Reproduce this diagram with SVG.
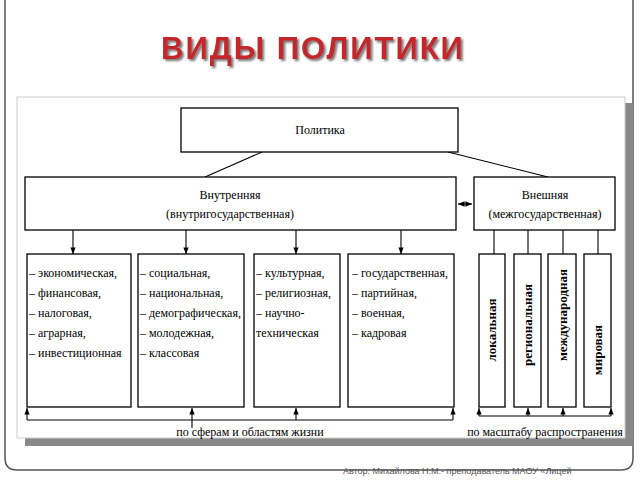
<svg xmlns="http://www.w3.org/2000/svg" width="640" height="480" viewBox="0 0 640 480">
<defs>
<marker id="ah" viewBox="0 0 10 10" refX="10" refY="5" markerWidth="6" markerHeight="6" orient="auto-start-reverse"><path d="M0,1 L10,5 L0,9 z" fill="#000"/></marker>
<filter id="sh" x="-5%" y="-20%" width="110%" height="140%"><feDropShadow dx="2" dy="2" stdDeviation="0.8" flood-color="#777"/></filter>
</defs>
<style>
.b{fill:#fff;stroke:#000;stroke-width:1.3}
.l{stroke:#000;stroke-width:1.1;fill:none}
.t{font-family:"Liberation Serif",serif;font-size:12px;fill:#000}
.c{text-anchor:middle}
.v{font-weight:bold;font-size:13px}
</style>
<rect x="0" y="0" width="640" height="480" fill="#fff"/>
<path d="M5,-10 L5,458 Q5,470 17,470 L621,470 Q633,470 633,458 L633,-10" fill="none" stroke="#555" stroke-width="1.5"/>
<text x="313" y="59" text-anchor="middle" font-family="Liberation Sans,sans-serif" font-weight="bold" font-size="31" letter-spacing="2" fill="#c4262b" filter="url(#sh)">ВИДЫ  ПОЛИТИКИ</text>
<rect x="625" y="103" width="8" height="343" fill="#888"/>
<rect x="25" y="438" width="608" height="8" fill="#888"/>
<rect x="17" y="97" width="608" height="341" fill="#fff" stroke="#ccc"/>
<g id="connectors">
<line class="l" x1="262" y1="152" x2="205" y2="177"/>
<line class="l" x1="448" y1="152" x2="548" y2="177"/>
<line class="l" x1="458" y1="204" x2="472" y2="204" marker-start="url(#ah)" marker-end="url(#ah)"/>
<line class="l" x1="73" y1="230" x2="73" y2="254" marker-end="url(#ah)"/>
<line class="l" x1="186" y1="230" x2="186" y2="254" marker-end="url(#ah)"/>
<line class="l" x1="296" y1="230" x2="296" y2="254" marker-end="url(#ah)"/>
<line class="l" x1="401" y1="230" x2="401" y2="254" marker-end="url(#ah)"/>
<line class="l" x1="494" y1="230" x2="494" y2="254"/>
<line class="l" x1="528" y1="230" x2="528" y2="254"/>
<line class="l" x1="563" y1="230" x2="563" y2="254"/>
<line class="l" x1="598" y1="230" x2="598" y2="254"/>
<path class="l" d="M27,420 L453,420"/>
<line class="l" x1="27" y1="420" x2="27" y2="408" marker-end="url(#ah)"/>
<line class="l" x1="192" y1="428" x2="192" y2="408" marker-end="url(#ah)"/>
<line class="l" x1="296" y1="420" x2="296" y2="408" marker-end="url(#ah)"/>
<line class="l" x1="453" y1="420" x2="453" y2="408" marker-end="url(#ah)"/>
<line class="l" x1="479" y1="416" x2="611" y2="416"/>
<line class="l" x1="479" y1="416" x2="479" y2="408" marker-end="url(#ah)"/>
<line class="l" x1="528" y1="416" x2="528" y2="408" marker-end="url(#ah)"/>
<line class="l" x1="563" y1="416" x2="563" y2="408" marker-end="url(#ah)"/>
<line class="l" x1="611" y1="416" x2="611" y2="408" marker-end="url(#ah)"/>
</g>
<g id="politika"><rect class="b" x="181" y="108" width="277" height="44"/><text class="t c" x="320" y="134">Политика</text></g>
<g id="vnutr"><rect class="b" x="25" y="177" width="431" height="53"/><text class="t c" x="230" y="199">Внутренняя</text><text class="t c" x="230" y="218">(внутригосударственная)</text></g>
<g id="vnesh"><rect class="b" x="474" y="177" width="141" height="53"/><text class="t c" x="545" y="199">Внешняя</text><text class="t c" x="545" y="218">(межгосударственная)</text></g>
<g id="box1"><rect class="b" x="27" y="254" width="104" height="153"/><text class="t" x="29" y="277">– экономическая,</text><text class="t" x="29" y="297">– финансовая,</text><text class="t" x="29" y="317">– налоговая,</text><text class="t" x="29" y="337">– аграрная,</text><text class="t" x="29" y="357">– инвестиционная</text></g>
<g id="box2"><rect class="b" x="138" y="254" width="106" height="153"/><text class="t" x="140" y="277">– социальная,</text><text class="t" x="140" y="297">– национальная,</text><text class="t" x="140" y="317">– демографическая,</text><text class="t" x="140" y="337">– молодежная,</text><text class="t" x="140" y="357">– классовая</text></g>
<g id="box3"><rect class="b" x="254" y="254" width="86" height="153"/><text class="t" x="256" y="277">– культурная,</text><text class="t" x="256" y="297">– религиозная,</text><text class="t" x="256" y="317">– научно-</text><text class="t" x="256" y="337">техническая</text></g>
<g id="box4"><rect class="b" x="348" y="254" width="106" height="153"/><text class="t" x="352" y="277">– государственная,</text><text class="t" x="352" y="297">– партийная,</text><text class="t" x="352" y="317">– военная,</text><text class="t" x="352" y="337">– кадровая</text></g>
<g id="v1"><rect class="b" x="479" y="254" width="26" height="153"/><text class="t c v" transform="translate(496,330) rotate(-90)">локальная</text></g>
<g id="v2"><rect class="b" x="514" y="254" width="27" height="153"/><text class="t c v" transform="translate(532,325) rotate(-90)">региональная</text></g>
<g id="v3"><rect class="b" x="548" y="254" width="28" height="153"/><text class="t c v" transform="translate(567,315) rotate(-90)">международная</text></g>
<g id="v4"><rect class="b" x="584" y="254" width="27" height="153"/><text class="t c v" transform="translate(602,350) rotate(-90)">мировая</text></g>
<text class="t c" x="250" y="436">по сферам и областям жизни</text>
<text class="t c" x="545" y="436">по масштабу распространения</text>
<text x="343" y="474" font-family="Liberation Sans,sans-serif" font-size="9" fill="#555">Автор: Михайлова Н.М.- преподаватель МАОУ «Лицей</text>
</svg>
